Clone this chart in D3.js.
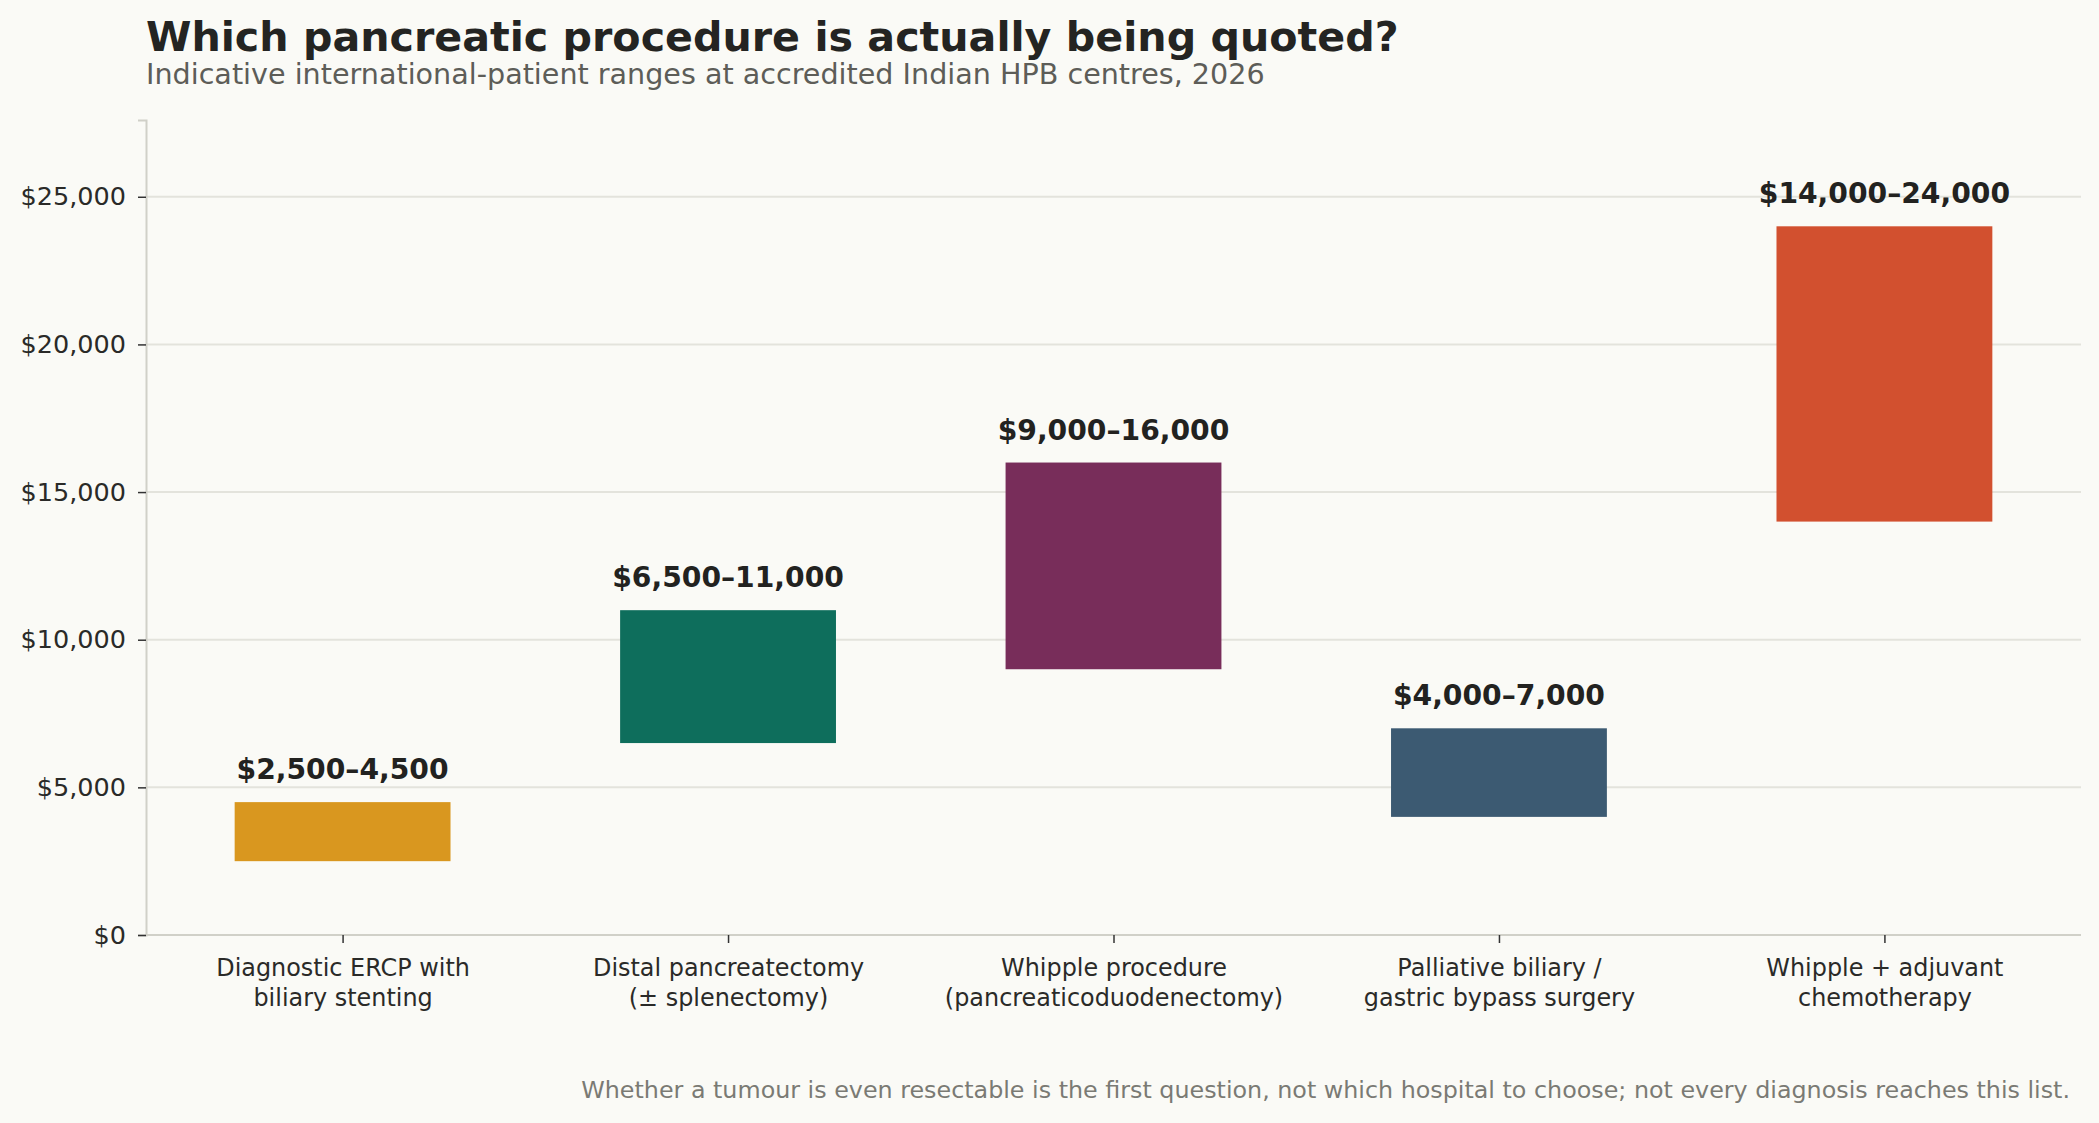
<!DOCTYPE html>
<html>
<head>
<meta charset="utf-8">
<script src="https://cdn.jsdelivr.net/npm/d3@7"></script>
<style>
  html, body { margin: 0; padding: 0; background: #fafaf6; }
  svg { display: block; font-family: "DejaVu Sans", sans-serif; }
</style>
</head>
<body>
<script>
let width = 2099
let height = 1123
let margin = {top: 120, right: 18, bottom: 188, left: 146}

// data
let procedures = [
  "Diagnostic ERCP with\nbiliary stenting",
  "Distal pancreatectomy\n(± splenectomy)",
  "Whipple procedure\n(pancreaticoduodenectomy)",
  "Palliative biliary /\ngastric bypass surgery",
  "Whipple + adjuvant\nchemotherapy"
]
let lowCost = [2500, 6500, 9000, 4000, 14000]
let highCost = [4500, 11000, 16000, 7000, 24000]
let barColors = ["#d9971f", "#0e6e5c", "#782d5a", "#3c5a72", "#d2502f"]
let yTicks = [0, 5000, 10000, 15000, 20000, 25000]

let title = "Which pancreatic procedure is actually being quoted?"
let subtitle = "Indicative international-patient ranges at accredited Indian HPB centres, 2026"
let footnote = "Whether a tumour is even resectable is the first question, not which hospital to choose; not every diagnosis reaches this list."

let dataset = procedures.map((p, i) => ({name: p, low: lowCost[i], high: highCost[i], color: barColors[i]}))

let svg = d3.select("body").append("svg")
    .attr("width", width)
    .attr("height", height)

svg.append("rect")
    .attr("width", width)
    .attr("height", height)
    .attr("fill", "#fafaf6")

let x = d3.scalePoint()
    .domain(procedures)
    .range([margin.left, width - margin.right])
    .padding(0.51)

let y = d3.scaleLinear()
    .domain([0, d3.max(highCost) * 1.15])
    .range([height - margin.bottom, margin.top])

let barW = x.step() * 0.56
let fmt = d3.format(",")

// grid
svg.append("g")
    .selectAll("line")
    .data(yTicks.slice(1))
    .join("line")
    .attr("x1", margin.left)
    .attr("x2", width - margin.right)
    .attr("y1", d => y(d))
    .attr("y2", d => y(d))
    .attr("stroke", "#e3e3dc")
    .attr("stroke-width", 2)

// y axis
let yAxis = svg.append("g")
    .attr("transform", `translate(${margin.left},0)`)
    .call(d3.axisLeft(y).tickValues(yTicks).tickFormat(d => "$" + fmt(d)).tickSize(8).tickPadding(12))
yAxis.select(".domain").attr("stroke", "#d0d0c8").attr("stroke-width", 2)
yAxis.selectAll(".tick line").attr("stroke", "#333").attr("stroke-width", 1.5)
yAxis.selectAll(".tick text")
    .attr("font-size", "25.5px")
    .attr("fill", "#2a2a28")
    .attr("font-family", "DejaVu Sans")

// bars
svg.append("g")
    .selectAll("rect")
    .data(dataset)
    .join("rect")
    .attr("x", d => x(d.name) - barW / 2)
    .attr("y", d => y(d.high))
    .attr("width", barW)
    .attr("height", d => y(d.low) - y(d.high))
    .attr("fill", d => d.color)

// value labels
svg.append("g")
    .selectAll("text")
    .data(dataset)
    .join("text")
    .attr("x", d => x(d.name))
    .attr("y", d => y(d.high) - 23)
    .attr("text-anchor", "middle")
    .attr("font-size", "28.2px")
    .attr("font-weight", "bold")
    .attr("fill", "#222220")
    .text(d => "$" + fmt(d.low) + "–" + fmt(d.high))

// x axis
let xAxis = svg.append("g")
    .attr("transform", `translate(0,${y(0)})`)
    .call(d3.axisBottom(x).tickSize(8).tickFormat(""))
xAxis.select(".domain").attr("stroke", "#d0d0c8").attr("stroke-width", 2)
    .attr("d", `M${margin.left},0H${width - margin.right}`)
xAxis.selectAll(".tick line").attr("stroke", "#333").attr("stroke-width", 1.5)

xAxis.selectAll(".tick")
    .append("text")
    .attr("text-anchor", "middle")
    .attr("font-size", "23.9px")
    .attr("fill", "#2a2a28")
    .attr("font-family", "DejaVu Sans")
    .selectAll("tspan")
    .data(d => d.split("\n"))
    .join("tspan")
    .attr("x", 0)
    .attr("y", (d, i) => 41 + i * 30)
    .text(d => d)

// titles
svg.append("text")
    .attr("x", 146)
    .attr("y", 51)
    .attr("font-size", "41.2px")
    .attr("font-weight", "bold")
    .attr("fill", "#242422")
    .text(title)

svg.append("text")
    .attr("x", 146)
    .attr("y", 84)
    .attr("font-size", "28.6px")
    .attr("fill", "#5d5d58")
    .text(subtitle)

svg.append("text")
    .attr("x", 2070)
    .attr("y", 1098)
    .attr("text-anchor", "end")
    .attr("font-size", "23.8px")
    .attr("fill", "#7a7a74")
    .text(footnote)
</script>
</body>
</html>
